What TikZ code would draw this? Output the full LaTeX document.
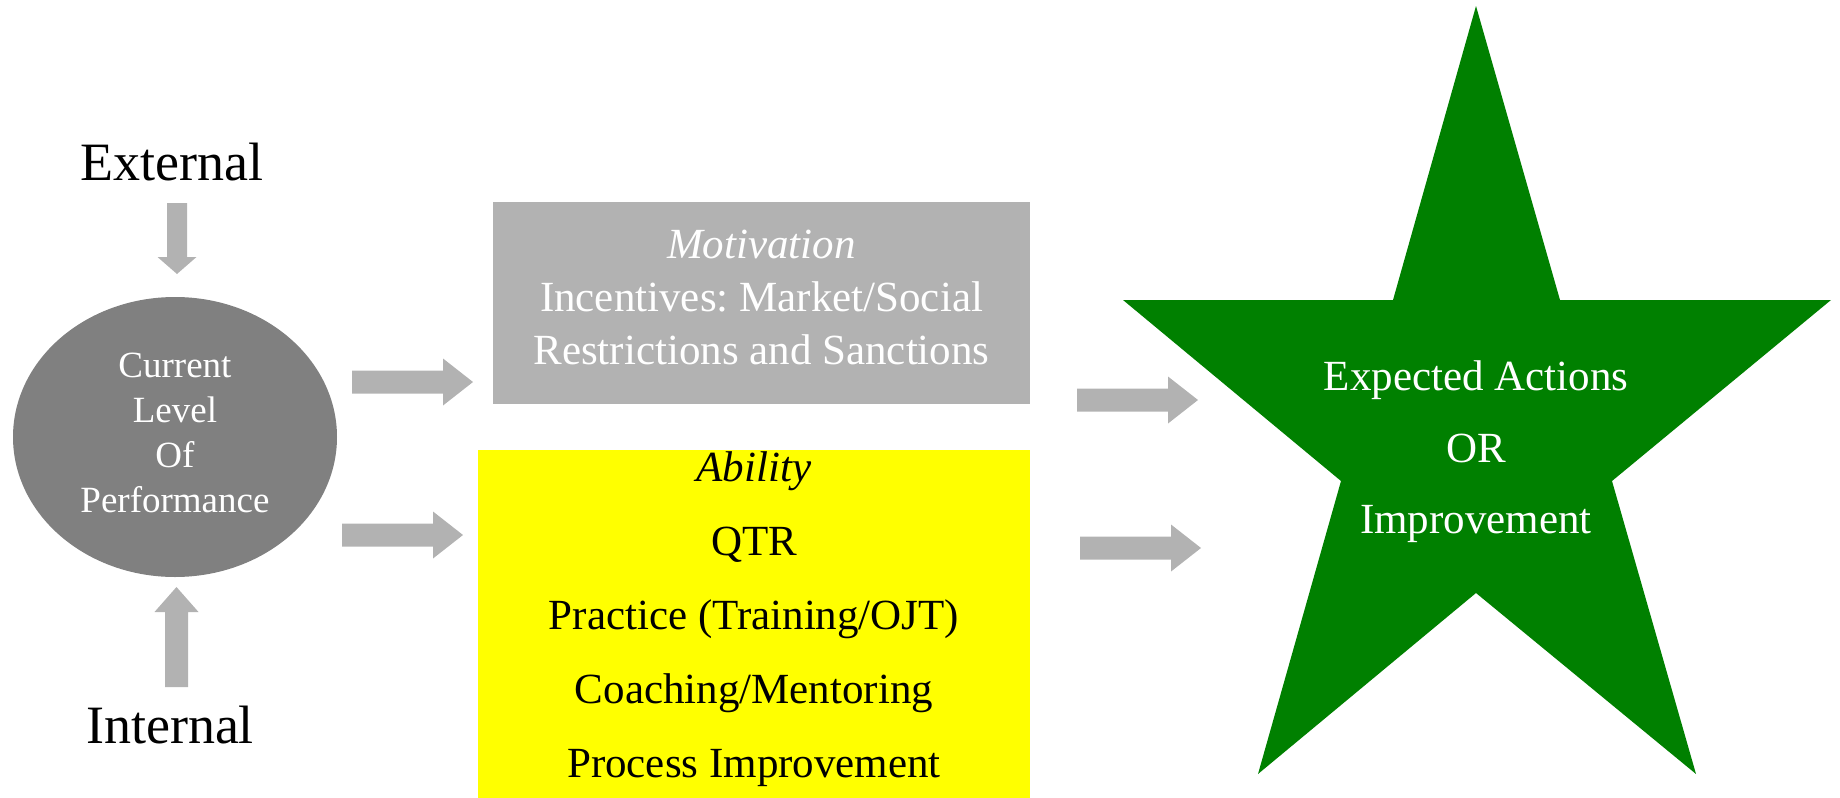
\documentclass[tikz,border=0pt]{standalone}
\usepackage{fontspec}
\setmainfont{Liberation Serif}
\usetikzlibrary{shapes.geometric}
\definecolor{arrowgrey}{HTML}{B2B2B2}
\definecolor{boxgrey}{HTML}{B2B2B2}
\definecolor{ellgrey}{HTML}{808080}
\definecolor{stargreen}{HTML}{008000}
\definecolor{hiyellow}{HTML}{FFFF00}
\frenchspacing
\begin{document}
\begin{tikzpicture}[x=1pt,y=-1pt,
  lbl/.style={anchor=base, inner sep=0pt, font=\fontsize{43}{52}\selectfont},
  smalllbl/.style={anchor=base, inner sep=0pt, font=\fontsize{37}{45}\selectfont, text=white},
  biglbl/.style={anchor=base, inner sep=0pt, font=\fontsize{54}{64}\selectfont},
  rarrow/.pic={\fill[arrowgrey] (0,-11.5) -- (91,-11.5) -- (91,-23.5) -- (121,0) -- (91,23.5) -- (91,11.5) -- (0,11.5) -- cycle;},
  panel/.style={rectangle, draw=none, inner sep=0pt}
]
\useasboundingbox (0,0) rectangle (1840,798);

% left: current level of performance
\node[ellipse, fill=ellgrey, draw=none, inner sep=0pt, minimum width=324, minimum height=280] (perf) at (175,437) {};
\node[smalllbl] (p1) at (175,377) {Current};
\node[smalllbl] (p2) at (175,422) {Level};
\node[smalllbl] (p3) at (175,467) {Of};
\node[smalllbl] (p4) at (175,512) {Performance};

\node[biglbl] (ext) at (172,180) {External};
\node[biglbl] (int) at (170,743) {Internal};

% vertical block arrows
\fill[arrowgrey] (167,203) -- (187,203) -- (187,257) -- (196.5,257) -- (177,274) -- (157.5,257) -- (167,257) -- cycle;
\fill[arrowgrey] (165,687) -- (188,687) -- (188,612) -- (198.5,612) -- (176.5,587) -- (154.5,612) -- (165,612) -- cycle;

% motivation box
\node[panel, fill=boxgrey, minimum width=537, minimum height=202] (motiv) at (761.5,303) {};
\node[lbl, text=white] (m1) at (761.5,258) {\itshape Motivation};
\node[lbl, text=white] (m2) at (761.5,311) {Incentives: Market/Social};
\node[lbl, text=white] (m3) at (761.5,364) {Restrictions and Sanctions};

% ability box
\node[panel, fill=hiyellow, minimum width=552, minimum height=348] (abil) at (754,624) {};
\node[lbl] (a1) at (754,481) {\itshape Ability};
\node[lbl] (a2) at (754,555) {QTR};
\node[lbl] (a3) at (754,629) {Practice (Training/OJT)};
\node[lbl] (a4) at (754,703) {Coaching/Mentoring};
\node[lbl] (a5) at (754,777) {Process Improvement};

% horizontal block arrows
\pic at (352,382) {rarrow};
\pic at (342,535) {rarrow};
\pic at (1077,400) {rarrow};
\pic at (1080,548) {rarrow};

% star
\fill[stargreen] (1476,6) -- (1560,300) -- (1831,300) -- (1612,481) -- (1696,774)
  -- (1476,593) -- (1258,774) -- (1341,481) -- (1123,300) -- (1393,300) -- cycle;
\node[lbl, text=white] (s1) at (1476,390) {Expected Actions};
\node[lbl, text=white] (s2) at (1476,462) {OR};
\node[lbl, text=white] (s3) at (1476,533) {Improvement};
\end{tikzpicture}
\end{document}
